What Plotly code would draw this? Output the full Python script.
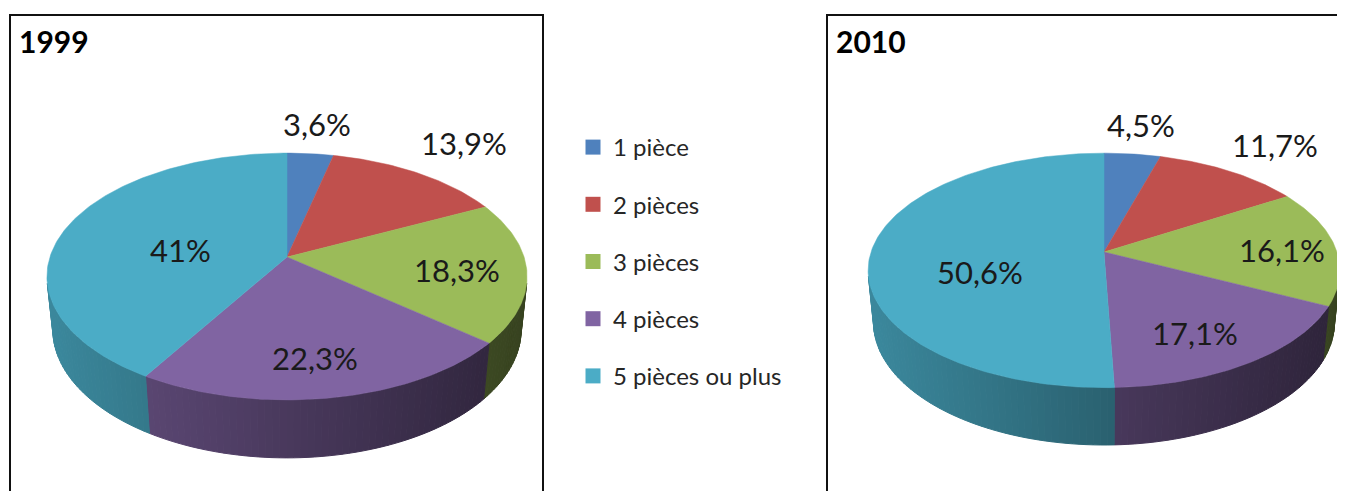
import numpy as np
import plotly.graph_objects as go

# ---------------- data ----------------
CATEGORIES = ["1 pièce", "2 pièces", "3 pièces", "4 pièces", "5 pièces ou plus"]
YEARS = ["1999", "2010"]
VALUES_1999 = [3.6, 13.9, 18.3, 22.3, 41.0]
VALUES_2010 = [4.5, 11.7, 16.1, 17.1, 50.6]
LABELS_1999 = ["3,6%", "13,9%", "18,3%", "22,3%", "41%"]
LABELS_2010 = ["4,5%", "11,7%", "16,1%", "17,1%", "50,6%"]

# ---------------- style ----------------
COLORS = ["#4F81BD", "#C0504D", "#9BBB59", "#8064A2", "#4BACC6"]
W, H = 1345, 491
OFF = 8  # page body margin compensation
FW, FH = W - OFF, H - OFF  # figure size so the page does not scroll
FONT = "Lato, 'Open Sans', sans-serif"

# perspective camera per pie: apex position, focal length, distance, elevation, thickness
PIES = [
    dict(year=YEARS[0], values=VALUES_1999, labels=LABELS_1999,
         cx=287, cy=257, f=1292, D=5.45, phi=30.5, h=0.263,
         label_r=[1.35, 1.42, 0.72, 0.75, 0.45],
         label_nudge=[(0, 0), (0, 0), (-2, 3), (-5, 0), (-6, 7)],
         frame=(10, 543)),
    dict(year=YEARS[1], values=VALUES_2010, labels=LABELS_2010,
         cx=1104, cy=252, f=1293, D=5.55, phi=29.4, h=0.26,
         label_r=[1.36, 1.38, 0.77, 0.76, 0.53],
         label_nudge=[(0, 0), (5, 0), (0, 2), (-16, 0), (0, 19)],
         frame=(827, 1360)),
]


def hex_rgb(h):
    h = h.lstrip("#")
    return tuple(int(h[i:i + 2], 16) for i in (0, 2, 4))


def shade(h, f):
    r, g, b = hex_rgb(h)
    return "rgb(%d,%d,%d)" % (r * f, g * f, b * f)


fig = go.Figure()
annotations = []
shapes = []

for pie in PIES:
    vals = np.array(pie["values"], dtype=float)
    frac = vals / vals.sum()
    edges = np.concatenate([[0], np.cumsum(frac)]) * 2 * np.pi
    cx, cy, f, D, h = pie["cx"], pie["cy"], pie["f"], pie["D"], pie["h"]
    sp, cp = np.sin(np.radians(pie["phi"])), np.cos(np.radians(pie["phi"]))

    def proj(X, Y, Z=0.0):
        depth = D + Y * cp - Z * sp
        sx = f * X / depth
        sy = f * (Y * sp + Z * cp) / depth
        return cx + sx, cy - sy

    # side walls (visible part only), drawn as shaded strips
    tvis = np.arccos(-1.0 / (D * cp))
    left_x = proj(-1.0, 0.0)[0] - 10
    right_x = proj(1.0, 0.0)[0] + 10
    for i in range(len(vals)):
        a0 = max(edges[i], tvis)
        a1 = min(edges[i + 1], 2 * np.pi - tvis)
        if a1 <= a0:
            continue
        n = max(2, int(np.ceil((a1 - a0) / np.radians(1.5))))
        ts = np.linspace(a0, a1, n + 1)
        for k in range(n):
            t0, t1 = ts[k], ts[k + 1]
            x0t, y0t = proj(np.sin(t0), np.cos(t0))
            x1t, y1t = proj(np.sin(t1), np.cos(t1))
            x0b, y0b = proj(np.sin(t0), np.cos(t0), -h)
            x1b, y1b = proj(np.sin(t1), np.cos(t1), -h)
            xs = [x0t, x1t, x1b, x0b, x0t]
            ys = [y0t, y1t, y1b, y0b, y0t]
            xm = (x0t + x1t) / 2
            tt = (xm - left_x) / (right_x - left_x)
            col = shade(COLORS[i], 0.80 - 0.45 * tt)
            fig.add_trace(go.Scatter(x=xs, y=ys, mode="lines", fill="toself",
                                     fillcolor=col, line=dict(color=col, width=1),
                                     hoverinfo="skip", showlegend=False))

    # top faces
    for i in range(len(vals)):
        ts = np.linspace(edges[i], edges[i + 1], max(3, int(np.degrees(edges[i + 1] - edges[i])) + 2))
        ax, ay = proj(0.0, 0.0)
        ex, ey = proj(np.sin(ts), np.cos(ts))
        xs = [ax] + list(ex) + [ax]
        ys = [ay] + list(ey) + [ay]
        fig.add_trace(go.Scatter(x=xs, y=ys, mode="lines", fill="toself",
                                 fillcolor=COLORS[i], line=dict(color=COLORS[i], width=0.5),
                                 hoverinfo="skip", showlegend=False,
                                 name=CATEGORIES[i]))

    # data labels
    for i in range(len(vals)):
        mid = (edges[i] + edges[i + 1]) / 2
        r = pie["label_r"][i]
        dx, dy = pie["label_nudge"][i]
        lx, ly = proj(r * np.sin(mid), r * np.cos(mid))
        annotations.append(dict(x=lx + dx, y=ly + dy,
                                xref="x", yref="y", text=pie["labels"][i], showarrow=False,
                                font=dict(family=FONT, size=31, color="#1a1a1a")))

    # frame + title
    fx0, fx1 = pie["frame"]
    shapes.append(dict(type="rect", xref="x", yref="y", x0=fx0, x1=fx1, y0=15, y1=530,
                       line=dict(color="#111111", width=2), fillcolor="rgba(0,0,0,0)", layer="below"))
    annotations.append(dict(x=fx0 + 7, y=21, xref="x", yref="y", xanchor="left", yanchor="top",
                            text="<b>%s</b>" % pie["year"], showarrow=False,
                            font=dict(family=FONT, size=30, color="#000000")))

# legend entries
for i, cat in enumerate(CATEGORIES):
    fig.add_trace(go.Scatter(x=[None], y=[None], mode="markers", name=cat,
                             marker=dict(symbol="square", size=15, color=COLORS[i]),
                             legendgroup=cat, showlegend=True))

fig.update_layout(
    width=FW, height=FH,
    margin=dict(l=0, r=0, t=0, b=0),
    paper_bgcolor="white", plot_bgcolor="white",
    xaxis=dict(range=[OFF, W], visible=False, fixedrange=True),
    yaxis=dict(range=[H, OFF], visible=False, fixedrange=True),
    annotations=annotations,
    shapes=shapes,
    showlegend=True,
    legend=dict(x=(573 - OFF) / FW, y=1 - (125 - OFF) / FH, xanchor="left", yanchor="top",
                traceorder="grouped", tracegroupgap=23, itemwidth=30,
                font=dict(family=FONT, size=24, color="#262626"),
                bgcolor="rgba(0,0,0,0)"),
)

fig.write_html("out.html", config={"displayModeBar": False})
